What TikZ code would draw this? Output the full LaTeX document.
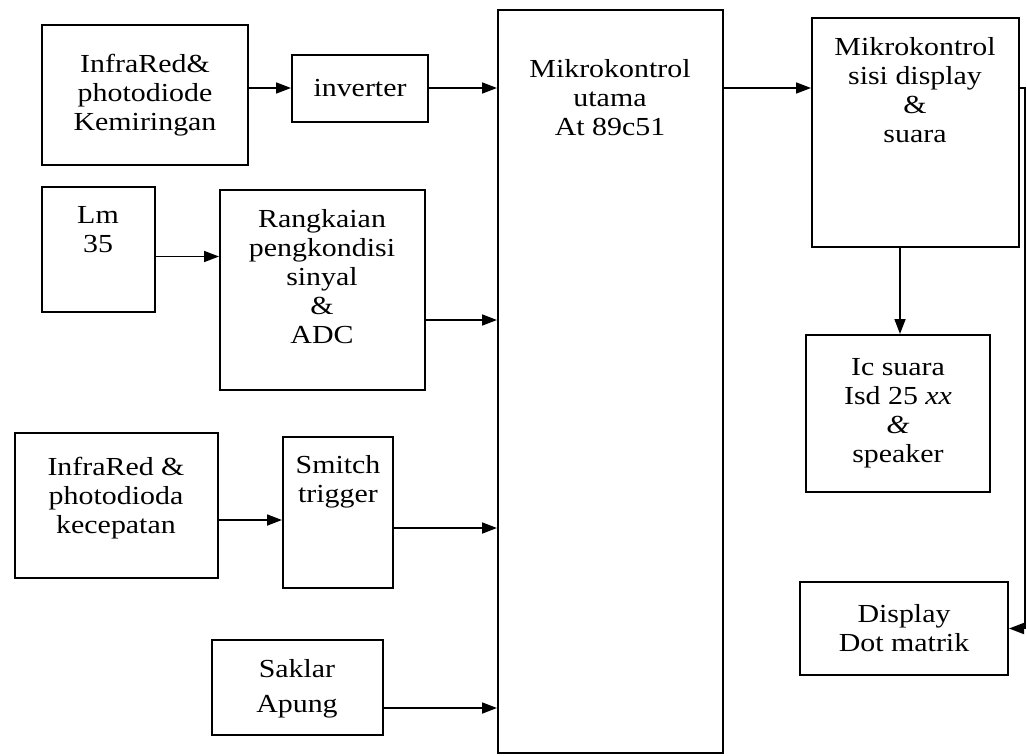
\documentclass[tikz,border=0pt]{standalone}
\usepackage{fontspec}
\setmainfont{Liberation Serif}[FakeStretch=1.15]
\usetikzlibrary{arrows.meta,calc}
\begin{document}
\begin{tikzpicture}[x=1pt,y=-1pt,
  box/.style={draw,line width=2pt,align=center,inner sep=0pt},
  txt/.style={align=center,inner sep=0pt},
  arr/.style={line width=1.7pt,-{Triangle[length=15pt,width=11pt]}},
  ln/.style={line width=1.7pt},
  every node/.style={font=\fontsize{26}{29}\selectfont}]
\useasboundingbox[fill=white] (0,0) rectangle (1027,755);
% boxes
\node[box,minimum width=206pt,minimum height=140pt] (ir1) at (145,95) {InfraRed\&\\photodiode\\Kemiringan};
\node[box,minimum width=136pt,minimum height=67pt] (inv) at (360,88) {inverter};
\node[box,minimum width=225pt,minimum height=743pt] (main) at (610.5,381.5) {};
\node[txt] (maintext) at (610,98) {Mikrokontrol\\utama\\At 89c51};
\node[box,minimum width=207pt,minimum height=229pt] (disp) at (915.5,132.5) {};
\node[txt] (disptext) at (915,90) {Mikrokontrol\\sisi display\\\&\\suara};
\node[box,minimum width=113pt,minimum height=125pt] (lm) at (98.5,249.5) {};
\node[txt] (lmtext) at (98,230) {Lm\\35};
\node[box,minimum width=205pt,minimum height=200pt] (rang) at (322.5,290) {};
\node[txt] (rangtext) at (322,277) {Rangkaian\\pengkondisi\\sinyal\\\&\\ADC};
\node[box,minimum width=203pt,minimum height=145pt] (ir2) at (116.5,505.5) {};
\node[txt] (ir2text) at (116,498) {InfraRed \&\\photodioda\\kecepatan};
\node[box,minimum width=110pt,minimum height=151pt] (smt) at (338,512.5) {};
\node[txt] (smttext) at (338,482) {Smitch\\trigger};
\node[box,minimum width=171pt,minimum height=95pt] (sak) at (297.5,687.5) {};
\node[txt,text depth=0pt] (saktext) at (297,686) {Saklar\\[6pt]Apung};
\node[box,minimum width=184pt,minimum height=157pt] (ic) at (898,413.5) {Ic suara\\Isd 25 \textit{xx}\\\textit{\&}\\speaker};
\node[box,minimum width=208pt,minimum height=93pt] (dot) at (904,628.5) {Display\\Dot matrik};
% connectors
\draw[arr] (ir1.east |- inv.west) -- (inv.west);
\draw[arr] (inv.east) -- (inv.east -| main.west);
\draw[arr] ([yshift=-7pt]lm.east) -- ([yshift=-7pt]lm.east -| rang.west);
\draw[arr] ([yshift=-30pt]rang.east) -- ([yshift=-30pt]rang.east -| main.west);
\draw[arr] ([yshift=-14.5pt]ir2.east) -- ([yshift=-14.5pt]ir2.east -| smt.west);
\draw[arr] ([yshift=-15.5pt]smt.east) -- ([yshift=-15.5pt]smt.east -| main.west);
\draw[arr] ([yshift=-20.5pt]sak.east) -- ([yshift=-20.5pt]sak.east -| main.west);
\draw[arr] ([yshift=44.5pt]disp.west -| main.east) -- ([yshift=44.5pt]disp.west);
\draw[arr] ([xshift=-15.5pt]disp.south) -- ([xshift=-15.5pt]disp.south |- ic.north);
\coordinate (c1) at (1025,88);
\coordinate (c2) at (1025,628.5);
\draw[ln] ([yshift=44.5pt]disp.east) -- (c1) -- (c2);
\draw[arr] (c2) -- (dot.east);
\end{tikzpicture}
\end{document}
